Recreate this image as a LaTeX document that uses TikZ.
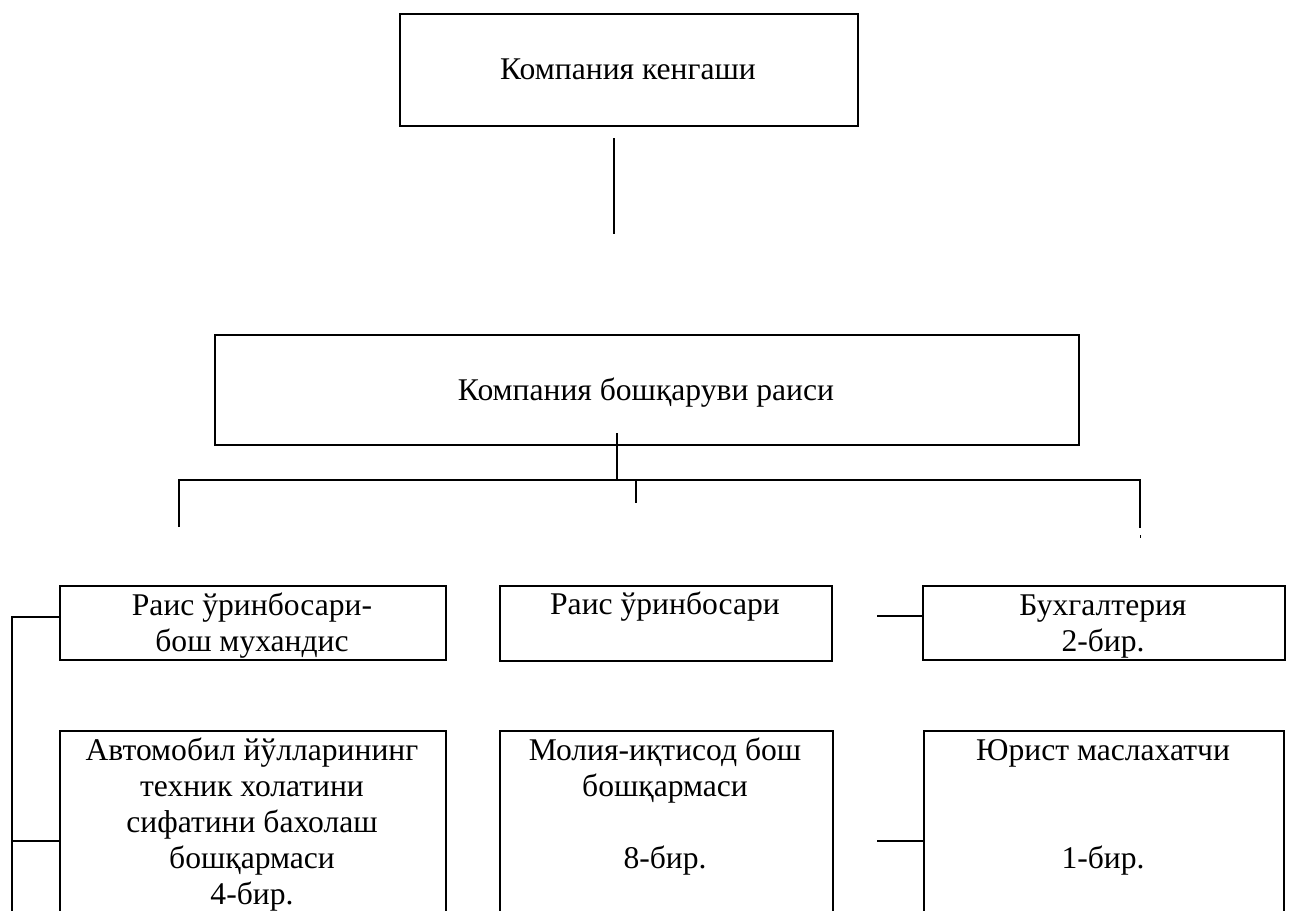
\documentclass[tikz,border=0pt]{standalone}
\usepackage{fontspec}
\setmainfont{Liberation Serif}
\begin{document}
\begin{tikzpicture}[x=0.5pt,y=-0.5pt,
  box/.style={draw, line width=1pt, inner sep=0pt, anchor=north west},
  txt/.style={font=\fontsize{15.8pt}{18pt}\selectfont, align=center, inner sep=0pt, anchor=base},
  link/.style={line width=0.75pt}]
\useasboundingbox (0,0) rectangle (1293,910);
\clip (0,0) rectangle (1293,910);
% boxes
\node[box, minimum width=229pt, minimum height=56pt] (b1) at (399,13) {};
\node[box, minimum width=432pt, minimum height=55pt] (b2) at (214,334) {};
\node[box, minimum width=193pt, minimum height=37pt] (r1) at (59,585) {};
\node[box, minimum width=166pt, minimum height=37.5pt] (r2) at (499,585) {};
\node[box, minimum width=181pt, minimum height=37pt] (r3) at (922,585) {};
\node[box, minimum width=193pt, minimum height=110pt] (a1) at (59,730) {};
\node[box, minimum width=166.5pt, minimum height=110pt] (c2) at (499,730) {};
\node[box, minimum width=180pt, minimum height=110pt] (c3) at (923,730) {};
% texts (anchor base = baseline of the last line)
\node[txt] (t1) at (628,79) {Компания кенгаши};
\node[txt] (t2) at (646,400) {Компания бошқаруви раиси};
\node[txt] (tr1) at (252,651) {Раис ўринбосари-\\бош мухандис};
\node[txt] (tr2) at (665,614) {Раис ўринбосари};
\node[txt] (tr3) at (1103,651) {Бухгалтерия\\2-бир.};
\node[txt] (ta1) at (252,904) {Автомобил йўлларининг\\техник холатини\\сифатини бахолаш\\бошқармаси\\4-бир.};
\node[txt] (tc2) at (665,868) {Молия-иқтисод бош\\бошқармаси\\[18pt]8-бир.};
\node[txt] (tc3a) at (1103,760) {Юрист маслахатчи};
\node[txt] (tc3b) at (1103,868) {1-бир.};
% connectors
\coordinate (k1) at (614,138);
\coordinate (k2) at (614,234);
\draw[line width=1pt] (k1) -- (k2);
\coordinate (k3) at (617,433);
\coordinate (k4) at (617,480);
\draw[link] (k3) -- (k4);
\coordinate (dl) at (179,527);
\coordinate (dr) at (1140,528);
\draw[link] (dl) |- (k4) -| (dr);
\coordinate (m1) at (636,480);
\coordinate (m2) at (636,503);
\draw[link] (m1) -- (m2);
\fill (1139.5,535) rectangle (1140.5,538);
% left bracket
\coordinate (lb) at (12,925);
\draw[link] (r1.west |- 0,617) -- (12,617) -- (lb);
\draw[link] (12,841) -- (a1.west |- 0,841);
% right stubs
\coordinate (s1) at (877,616);
\coordinate (s2) at (877,841);
\draw[link] (s1) -- (r3.west |- s1);
\draw[link] (s2) -- (c3.west |- s2);
\end{tikzpicture}
\end{document}
